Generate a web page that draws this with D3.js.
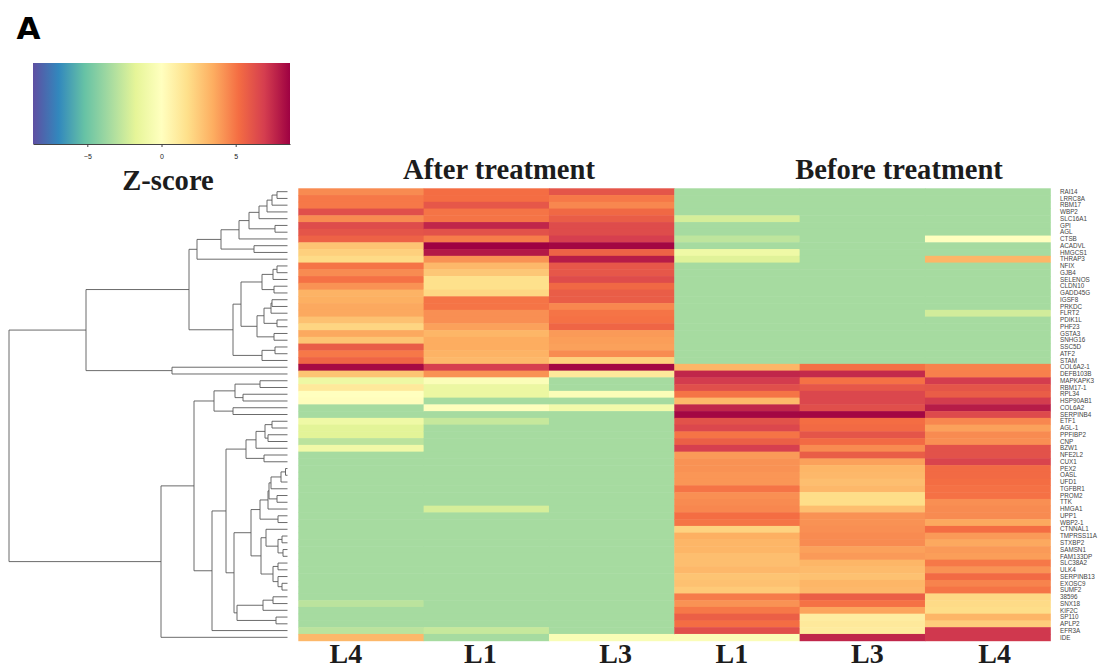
<!DOCTYPE html>
<html>
<head>
<meta charset="utf-8">
<script src="https://cdn.jsdelivr.net/npm/d3@7"></script>
<style>
  html, body { margin: 0; padding: 0; background: #fff; }
  svg { display: block; }
  .serif { font-family: "Liberation Serif", serif; font-weight: bold; fill: #1c1c1c; }
</style>
</head>
<body>
<div id="chart"></div>
<script>
var genes = ["RAI14","LRRC8A","RBM17","WBP2","SLC16A1","GPI","AGL","CTSB","ACADVL","HMGCS1","THRAP3",
  "NFIX","GJB4","SELENOS","CLDN10","GADD45G","IGSF8","PRKDC","FLRT2","PDIK1L","PHF23","GSTA3","SNHG16","SSC5D","ATF2","STAM",
  "COL6A2-1","DEFB103B","MAPKAPK3","RBM17-1","RPL34","HSP90AB1","COL6A2","SERPINB4",
  "ETF1","AGL-1","PPFIBP2","CNP","BZW1","NFE2L2","CUX1","PEX2","OASL","UFD1","TGFBR1","PROM2","TTK","HMGA1","UPP1","WBP2-1",
  "CTNNAL1","TMPRSS11A","STXBP2","SAMSN1","FAM133DP","SLC38A2","ULK4","SERPINB13","EXOSC9","SUMF2",
  "38596","SNX18","KIF2C","SP110","APLP2","EFR3A","IDE"];

var columns = ["After L4", "After L1", "After L3", "Before L1", "Before L3", "Before L4"];
var columnLabels = ["L4", "L1", "L3", "L1", "L3", "L4"];
var groupTitles = ["After treatment", "Before treatment"];

// z-scores, one array per column, same order as genes
var afterL4 = [4.4,4.9,4.9,6.3,4.4,6.4,6.1,5.6,2.7,2.3,1.9,
  5.0,4.4,5.1,4.2,3.3,3.4,3.6,3.6,2.8,2.1,3.6,2.7,5.8,4.9,5.5,
  8.4,2.7,-1.2,1.2,0.0,0.1,-3.46,-3.46,
  -1.1,-1.8,-1.8,-2.9,-1.0,-3.46,-3.46,-3.46,-3.46,-3.46,-3.46,-3.46,-3.46,-3.46,-3.46,-3.46,
  -3.46,-3.46,-3.46,-3.46,-3.46,-3.46,-3.46,-3.46,-3.46,-3.46,
  -3.46,-2.9,-3.46,-3.46,-3.46,-2.9,3.1];
var afterL1 = [5.2,5.2,6.0,5.0,5.0,7.6,6.2,4.8,8.66,8.0,4.2,
  3.1,2.6,1.7,1.7,2.0,5.0,5.0,4.3,4.3,3.8,3.2,3.5,3.5,3.3,3.1,
  6.9,4.2,-0.3,-1.3,-1.3,-3.46,-0.1,-3.46,
  -2.6,-3.46,-3.46,-3.46,-3.46,-3.46,-3.46,-3.46,-3.46,-3.46,-3.46,-3.46,-3.46,-2.2,-3.46,-3.46,
  -3.46,-3.46,-3.46,-3.46,-3.46,-3.46,-3.46,-3.46,-3.46,-3.46,
  -3.46,-3.46,-3.46,-3.46,-3.46,-2.6,-3.46];
var afterL3 = [6.1,4.9,4.5,5.4,5.8,6.4,6.4,6.9,8.5,5.6,7.9,
  6.0,6.0,6.4,5.4,5.8,5.8,4.5,5.0,5.1,5.5,4.0,3.9,3.8,4.4,2.3,
  8.5,1.2,-3.46,-3.46,-0.3,-3.46,-0.9,-3.46,
  -3.46,-3.46,-3.46,-3.46,-3.46,-3.46,-3.46,-3.46,-3.46,-3.46,-3.46,-3.46,-3.46,-3.46,-3.46,-3.46,
  -3.46,-3.46,-3.46,-3.46,-3.46,-3.46,-3.46,-3.46,-3.46,-3.46,
  -3.46,-3.46,-3.46,-3.46,-3.46,-3.46,-0.4];
var beforeL1 = [-3.46,-3.46,-3.46,-3.46,-2.2,-3.46,-3.46,-2.8,-3.46,-1.1,-1.9,
  -3.46,-3.46,-3.46,-3.46,-3.46,-3.46,-3.46,-3.46,-3.46,-3.46,-3.46,-3.46,-3.46,-3.46,-3.46,
  3.2,7.6,7.0,6.3,5.0,3.1,7.6,8.5,
  6.2,6.6,5.0,5.7,6.9,4.0,4.2,4.2,4.1,4.1,5.0,4.3,4.4,4.5,5.2,5.0,
  2.2,3.4,3.2,3.2,2.9,2.9,3.1,2.7,2.8,2.5,
  4.8,4.2,4.9,5.7,5.2,6.3,-0.3];
var beforeL3 = [-3.46,-3.46,-3.46,-3.46,-3.46,-3.46,-3.46,-3.46,-3.46,-3.46,-3.46,
  -3.46,-3.46,-3.46,-3.46,-3.46,-3.46,-3.46,-3.46,-3.46,-3.46,-3.46,-3.46,-3.46,-3.46,-3.46,
  5.1,7.5,5.1,6.0,6.6,6.6,6.3,8.5,
  5.2,5.3,6.1,5.3,4.4,5.8,3.8,3.2,3.1,2.9,3.1,1.8,1.8,2.9,4.2,4.2,
  4.3,4.4,4.4,3.8,4.0,3.2,3.0,2.8,3.2,3.1,
  5.7,5.1,3.7,1.0,1.2,1.1,7.6];
var beforeL4 = [-3.46,-3.46,-3.46,-3.46,-3.46,-3.46,-3.46,0.0,-3.46,-3.46,3.2,
  -3.46,-3.46,-3.46,-3.46,-3.46,-3.46,-3.46,-2.3,-3.46,-3.46,-3.46,-3.46,-3.46,-3.46,-3.46,
  4.6,4.7,7.0,6.1,5.8,7.0,7.9,6.5,
  4.5,3.8,4.4,4.3,6.2,6.2,6.7,5.3,5.3,5.2,5.1,5.1,4.3,4.4,4.4,3.6,
  5.2,4.0,3.6,4.0,3.9,4.9,4.2,5.3,4.6,5.0,
  2.0,1.9,1.8,3.2,2.4,7.1,7.1];
var matrix = [afterL4, afterL1, afterL3, beforeL1, beforeL3, beforeL4];

// colour key
var zStops = [-8.66,-6.93,-5.2,-3.46,-1.73,0,1.73,3.46,5.2,6.93,8.66];
var zColors = ["#5e4fa2","#3288bd","#66c2a5","#a6dba0","#e6f598","#ffffbf","#fee08b","#fdae61","#f46d43","#d53e4f","#9e0142"];
var zTicks = [-5, 0, 5];

// dendrogram, [merge height, left, right], numbers are row indexes into genes
var clusterA = [90.5,
  [66.5,
    [48.5,
      [38.5,
        [28.5, [20.5, [15.5, [10.5, 0, 1], 2], 3], 4],
        [12.5, 5, 6]],
      7],
    [33.5, 8, 9]],
  10];
var clusterB = [54.5,
  [46.5,
    [25.5, [14.5, [10.5, 11, 12], 13], [13.5, 14, 15]],
    [30.5,
      [23.5, [16.5, [15.5, 16, 17], 18], [10.5, 19, 20]],
      [13.5, 21, 22]]],
  [25.5, [12.5, 23, 24], 25]];
var clusterC = [73.5,
  [52.5, [27.5, 28, 29], [44.5, 30, 31]],
  [54.5, 32, 33]];
var clusterD = [41.5,
  [31.5, [22.5, [15.5, 34, 35], [19.5, 36, 37]], 38],
  [23.5, 39, 40]];
var clusterE = [27.5,
  [19.5,
    [18.5, [16.5, [6.5, [2, 41, 42], 43], 44], [10.5, 45, 46]],
    47],
  [9.5, 48, 49]];
var clusterF = [26.5,
  [21.5, 50, [9.5, [5.5, 51, 52], [4.5, 53, 54]]],
  [14.5, [9.5, 55, 56], [9.5, 57, [5.5, 58, 59]]]];
var clusterG = [50.5,
  [24.5, [14.5, 60, 61], 62],
  [11.5, 63, 64]];
var dendrogram = [278.5,
  [201.5,
    [98.5, clusterA, clusterB],
    [115.5, 26, 27]],
  [126.5,
    [93.5,
      clusterC,
      [75.5,
        [61.5, clusterD, [53.5, [36.5, clusterE, clusterF], clusterG]],
        65]],
    66]];

// layout
var svgWidth = 1113, svgHeight = 669;
var heat = { left: 298.3, right: 1050.3, top: 188.3, bottom: 640.7 };
var key = { left: 33, right: 290, top: 63, bottom: 144 };
var labelShift = [-15, -6, 4, -5, 5, 7];

var svg = d3.select("#chart").append("svg")
  .attr("width", svgWidth)
  .attr("height", svgHeight);

var color = d3.scaleLinear().domain(zStops).range(zColors).clamp(true);
var xScale = d3.scaleBand().domain(columns).range([heat.left, heat.right]);
var yScale = d3.scaleBand().domain(genes).range([heat.top, heat.bottom]);

// heatmap cells
svg.append("g").selectAll("g")
  .data(matrix)
  .enter().append("g")
  .each(function (values, c) {
    d3.select(this).selectAll("rect")
      .data(values)
      .enter().append("rect")
      .attr("x", xScale(columns[c]))
      .attr("y", (d, r) => yScale(genes[r]))
      .attr("width", xScale.bandwidth() + 0.5)
      .attr("height", yScale.bandwidth() + 0.5)
      .attr("fill", d => color(d));
  });

// gene names
svg.append("g").selectAll("text")
  .data(genes)
  .enter().append("text")
  .attr("x", 1060)
  .attr("y", d => yScale(d) + yScale.bandwidth() / 2)
  .attr("dy", "0.35em")
  .attr("font-family", "Liberation Sans, Arial, sans-serif")
  .attr("font-size", 6.3)
  .attr("fill", "#444")
  .text(d => d);

// column labels
svg.append("g").selectAll("text")
  .data(columnLabels)
  .enter().append("text")
  .attr("class", "serif")
  .attr("x", (d, i) => xScale(columns[i]) + xScale.bandwidth() / 2 + labelShift[i])
  .attr("y", 662.5)
  .attr("text-anchor", "middle")
  .attr("font-size", 28)
  .text(d => d);

// group titles
svg.append("g").selectAll("text")
  .data(groupTitles)
  .enter().append("text")
  .attr("class", "serif")
  .attr("x", (d, i) => i === 0 ? 499 : 899)
  .attr("y", 179)
  .attr("text-anchor", "middle")
  .attr("font-size", 28.6)
  .text(d => d);

// dendrogram
var root = d3.hierarchy(dendrogram, d => Array.isArray(d) ? d.slice(1) : null);
var hScale = d3.scaleLinear().domain([0, 278.5]).range([287.5, 9]);

root.eachAfter(function (node) {
  if (node.children) {
    node.h = node.data[0];
    node.yPos = d3.mean(node.children, c => c.yPos);
  } else {
    node.h = 0;
    node.yPos = yScale(genes[node.data]) + yScale.bandwidth() / 2;
  }
});

svg.append("g").selectAll("path")
  .data(root.descendants().filter(d => d.children))
  .enter().append("path")
  .attr("fill", "none")
  .attr("stroke", "#5a5a5a")
  .attr("stroke-width", 0.9)
  .attr("d", function (d) {
    var a = d.children[0], b = d.children[1], x = hScale(d.h);
    return "M" + hScale(a.h) + "," + a.yPos + "H" + x + "V" + b.yPos + "H" + hScale(b.h);
  });

// colour key
var gradient = svg.append("defs").append("linearGradient")
  .attr("id", "zGradient");
gradient.selectAll("stop")
  .data(zStops)
  .enter().append("stop")
  .attr("offset", (d, i) => (i / (zStops.length - 1) * 100) + "%")
  .attr("stop-color", (d, i) => zColors[i]);

svg.append("rect")
  .attr("x", key.left)
  .attr("y", key.top)
  .attr("width", key.right - key.left)
  .attr("height", key.bottom - key.top)
  .attr("fill", "url(#zGradient)");

var zScale = d3.scaleLinear().domain([-8.66, 8.66]).range([key.left, key.right]);
var zAxis = svg.append("g")
  .attr("transform", "translate(0," + key.bottom + ")")
  .call(d3.axisBottom(zScale).tickValues(zTicks).tickSize(3).tickSizeOuter(0).tickPadding(7).tickFormat(d3.format("d")));
zAxis.selectAll("text")
  .attr("font-family", "Liberation Sans, Arial, sans-serif")
  .attr("font-size", 7)
  .attr("fill", "#222");
zAxis.selectAll("line, path").attr("stroke", "#444");

svg.append("text")
  .attr("class", "serif")
  .attr("x", 168)
  .attr("y", 190)
  .attr("text-anchor", "middle")
  .attr("font-size", 28.6)
  .text("Z-score");

svg.append("text")
  .attr("x", 16.5)
  .attr("y", 39)
  .attr("font-family", "DejaVu Sans, sans-serif")
  .attr("font-weight", "bold")
  .attr("font-size", 31)
  .attr("fill", "#000")
  .text("A");
</script>
</body>
</html>
